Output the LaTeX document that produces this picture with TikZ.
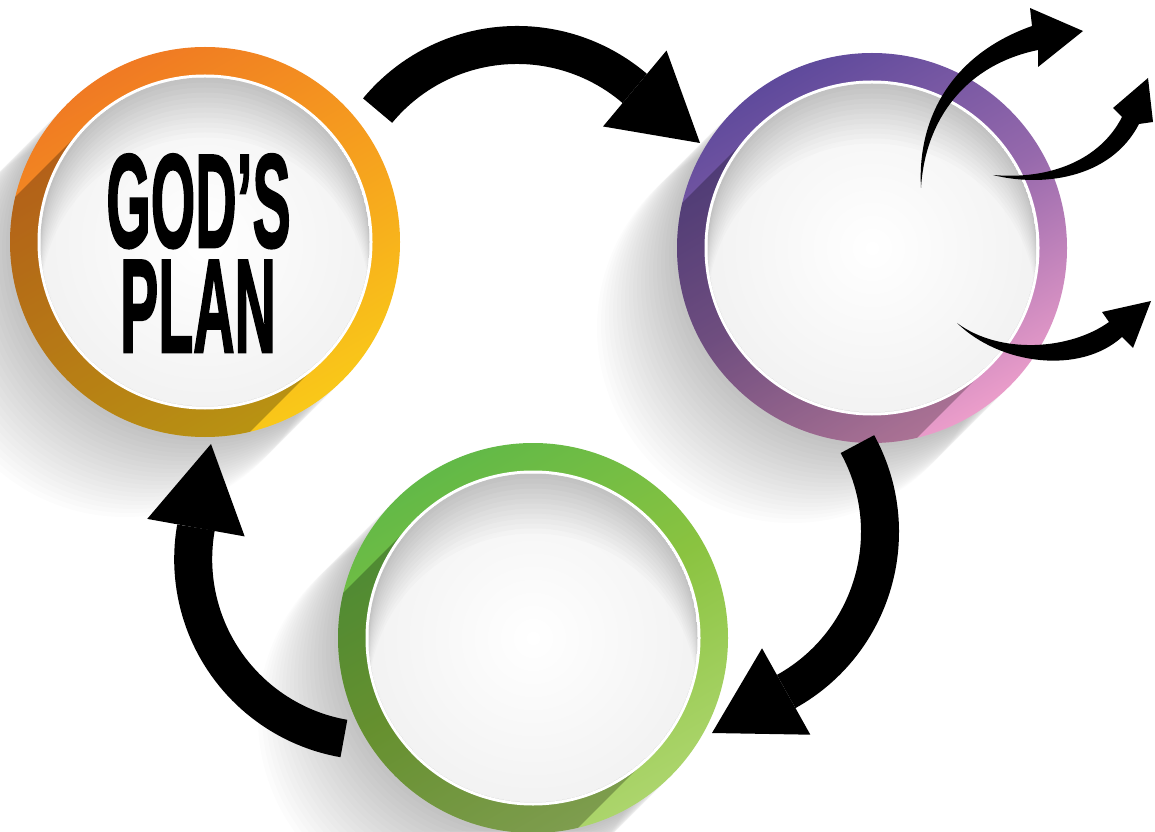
\documentclass[tikz,border=0pt]{standalone}
\usepackage{fontspec}
\usetikzlibrary{arrows.meta,calc}
\newfontfamily\godfont{Liberation Sans}[BoldFeatures={FakeBold=2}]
\definecolor{orTop}{RGB}{240,122,35}
\definecolor{orMid}{RGB}{246,160,30}
\definecolor{orBot}{RGB}{249,200,25}
\definecolor{puTop}{RGB}{95,74,156}
\definecolor{puMid}{RGB}{150,105,172}
\definecolor{puBot}{RGB}{235,157,202}
\definecolor{grTop}{RGB}{98,185,71}
\definecolor{grMid}{RGB}{138,195,64}
\definecolor{grBot}{RGB}{172,213,108}
\begin{document}
\begin{tikzpicture}[x=1pt,y=1pt,
  ring/.style={circle, minimum size=390pt, inner sep=0pt, outer sep=0pt},
  disc/.style={circle, minimum size=332pt, inner sep=0pt, outer sep=0pt, inner color=white, outer color=black!5, draw=white, line width=3pt},
  bigarrow/.style={line width=38pt, -{Triangle[length=85pt,width=99pt,line width=0pt]}},
  smallarrow/.style={fill=black},
  title/.style={font=\godfont\bfseries\fontsize{133}{133}\selectfont, inner sep=0pt, anchor=base, text height=95pt, text depth=0pt},
  farshadow/.style={fill=black, opacity=0.012},
  ringshadow/.style={fill=black, opacity=0.26},
  topveil/.style={fill=black, opacity=0.016, even odd rule},
]
\useasboundingbox (0,0) rectangle (1155,831);
\fill[white] (0,0) rectangle (1155,831);
\coordinate (oc) at (205,589);
\coordinate (pc) at (872,583);
\coordinate (gc) at (533,193);
% soft long shadows outside the rings
\foreach \c in {oc,pc,gc}{
  \foreach \k in {4,8,...,80}{
    \fill[farshadow] ($(\c)+(-\k,-\k)$) circle[radius=195pt];
  }
}
% rings
\node[ring, top color=orTop, bottom color=orBot, middle color=orMid, shading angle=30] (orange) at (oc) {};
\node[ring, top color=puTop, bottom color=puBot, middle color=puMid, shading angle=30] (purple) at (pc) {};
\node[ring, top color=grTop, bottom color=grBot, middle color=grMid, shading angle=30] (green) at (gc) {};
% long shadows on the rings
\foreach \c in {oc,pc,gc}{
  \begin{scope}
    \clip (\c) circle[radius=195pt];
    \fill[ringshadow] ($(\c)+(-117.4,117.4)$) -- ++(-160,-160) -- ($(\c)+(-42.6,-277.4)$) -- ($(\c)+(117.4,-117.4)$) -- cycle;
  \end{scope}
}
% white discs
\node[disc] (orangeIn) at (oc) {};
\node[disc] (purpleIn) at (pc) {};
\node[disc] (greenIn) at (gc) {};
\foreach \c in {oc,pc,gc}{
  \begin{scope}
    \clip (\c) circle[radius=164.5pt];
    \foreach \d in {5,10,...,60}{
      \fill[topveil] (\c) circle[radius=164.5pt] ($(\c)+(0,-\d)$) circle[radius=164.5pt];
    }
  \end{scope}
}
% title
\node[title] (god) at (198.5,584) {\scalebox{0.43}[1]{GOD’S}};
\node[title] (plan) at (198,479) {\scalebox{0.43}[1]{PLAN}};
% big arrows
\coordinate (a1s) at (377.6,720.4);
\coordinate (a1t) at (700,688);
\draw[bigarrow] (a1s) arc[start angle=140.4, end angle=49.5, radius=181pt] -- (a1t);
\coordinate (a2s) at (857.4,386.9);
\coordinate (a2t) at (712,98);
\draw[bigarrow] (a2s) arc[start angle=28.8, end angle=-60.7, radius=182.5pt] -- (a2t);
\coordinate (a3s) at (343.9,92.5);
\coordinate (a3t) at (211,387);
\draw[bigarrow] (a3s) arc[start angle=-99.9, end angle=-190, radius=182pt] -- (a3t);
% small arrows leaving the purple circle
\coordinate (sA) at (921,643);
\coordinate (sB) at (993,656);
\coordinate (sC) at (957,508);
\fill[smallarrow] (sA) .. controls (917,711) and (950,776) .. (1032,805) -- (1030,823) -- (1083,800) -- (1038,764) -- (1038,781) .. controls (965,766) and (925,711) .. (sA) -- cycle;
\fill[smallarrow] (sB) .. controls (1040,644) and (1110,651) .. (1139,707) -- (1153,709) -- (1148,753) -- (1113,723) -- (1122,714) .. controls (1100,671) and (1050,651) .. (sB) -- cycle;
\fill[smallarrow] (sC) .. controls (1000,466) and (1080,456) .. (1122,494) -- (1133,483) -- (1151,530) -- (1102,519) -- (1109,509) .. controls (1070,481) and (1000,476) .. (sC) -- cycle;
\end{tikzpicture}
\end{document}
